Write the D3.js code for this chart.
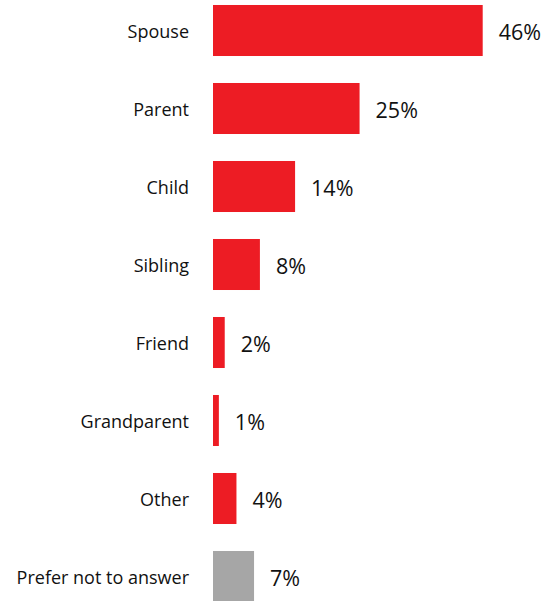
<!DOCTYPE html>
<html>
<head>
<meta charset="utf-8">
<script src="https://cdn.jsdelivr.net/npm/d3@7"></script>
<style>
  html, body { margin: 0; padding: 0; background: #fff; }
  svg { display: block; }
</style>
</head>
<body>
<div id="chart"></div>
<script>
// Relationship categories and their shares (%)
const categories = ["Spouse", "Parent", "Child", "Sibling", "Friend", "Grandparent", "Other", "Prefer not to answer"];
const values = [46, 25, 14, 8, 2, 1, 4, 7];
const valueLabels = ["46%", "25%", "14%", "8%", "2%", "1%", "4%", "7%"];
const barColors = ["#ED1C24", "#ED1C24", "#ED1C24", "#ED1C24", "#ED1C24", "#ED1C24", "#ED1C24", "#A6A6A6"];

const width = 547, height = 601;
const fontFamily = "'Open Sans', 'Noto Sans', sans-serif";

const svg = d3.select("#chart").append("svg")
  .attr("width", width)
  .attr("height", height);

const x = d3.scaleLinear()
  .domain([0, 46])
  .range([213, 482.7]);

const y = d3.scaleBand()
  .domain(categories)
  .range([-8.5, 615.5])
  .paddingInner(0.346)
  .paddingOuter(0.173);

const rows = categories.map((c, i) => ({ c, v: values[i], label: valueLabels[i], color: barColors[i] }));

svg.selectAll("rect.bar")
  .data(rows)
  .join("rect")
  .attr("class", "bar")
  .attr("x", x(0))
  .attr("y", d => y(d.c))
  .attr("width", d => x(d.v) - x(0))
  .attr("height", y.bandwidth())
  .attr("fill", d => d.color);

// Category names, right-aligned left of the bars
svg.selectAll("text.cat")
  .data(rows)
  .join("text")
  .attr("class", "cat")
  .attr("x", x(0) - 24)
  .attr("y", d => y(d.c) + y.bandwidth() / 2 + 1.5)
  .attr("dy", "0.35em")
  .attr("text-anchor", "end")
  .attr("font-family", fontFamily)
  .attr("font-size", 18)
  .attr("fill", "#111")
  .text(d => d.c);

// Value labels at the end of each bar
svg.selectAll("text.val")
  .data(rows)
  .join("text")
  .attr("class", "val")
  .attr("x", d => x(d.v) + 16)
  .attr("y", d => y(d.c) + y.bandwidth() / 2 + 1.5)
  .attr("dy", "0.35em")
  .attr("text-anchor", "start")
  .attr("font-family", fontFamily)
  .attr("font-size", 21.5)
  .attr("fill", "#111")
  .text(d => d.label);
</script>
</body>
</html>
